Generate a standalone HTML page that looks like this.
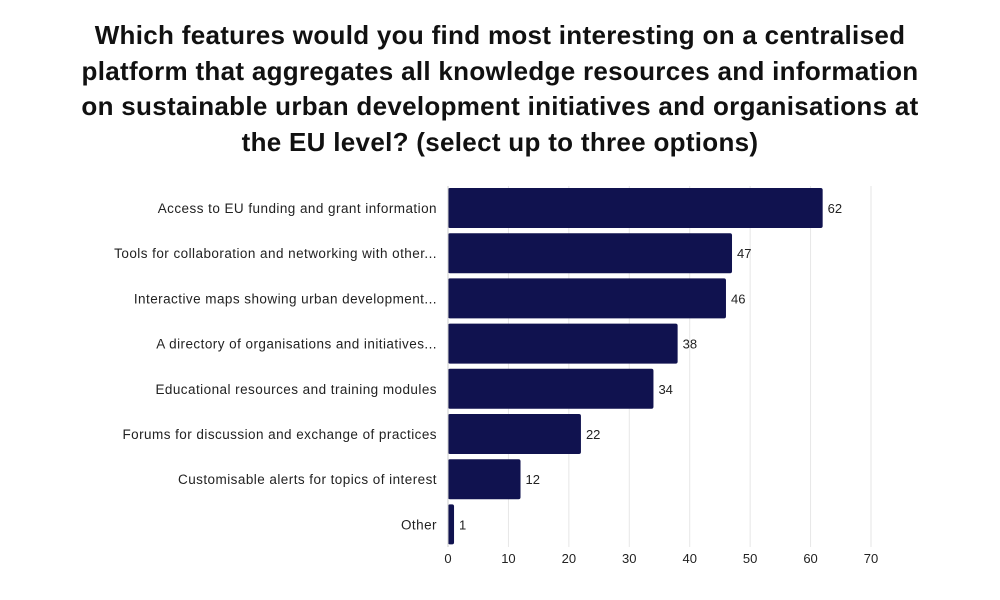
<!DOCTYPE html>
<html><head><meta charset="utf-8">
<style>
body{margin:0;background:#fff;width:1000px;height:600px;overflow:hidden;font-family:"Liberation Sans",sans-serif}
#title{position:absolute;left:0;top:18px;width:1000px;text-align:center;font-weight:bold;font-size:26px;letter-spacing:0.3px;line-height:35.7px;color:#111;white-space:nowrap}
svg{position:absolute;left:0;top:0}
</style></head><body>
<div id="title">Which features would you find most interesting on a centralised<br>platform that aggregates all knowledge resources and information<br>on sustainable urban development initiatives and organisations at<br>the EU level? (select up to three options)</div>
<svg id="chart" width="1000" height="600"></svg>
<script>
const categories=["Access to EU funding and grant information","Tools for collaboration and networking with other...","Interactive maps showing urban development...","A directory of organisations and initiatives...","Educational resources and training modules","Forums for discussion and exchange of practices","Customisable alerts for topics of interest","Other"];
const values=[62,47,46,38,34,22,12,1];
const ticks=[0,10,20,30,40,50,60,70];
const svg=document.getElementById('chart');
const NS='http://www.w3.org/2000/svg';
const x0=448,x1=871,xmax=70,top0=188,pitch=45.2,bh=40;
const xs=v=>x0+(x1-x0)*v/xmax;
function mk(t,a){const e=document.createElementNS(NS,t);for(const k in a)e.setAttribute(k,a[k]);svg.appendChild(e);return e;}
ticks.forEach(t=>{
 const g=mk('line',{x1:xs(t),x2:xs(t),y1:186,y2:547,stroke:'#e6e6e6','stroke-width':1});
 
 
 const l=mk('text',{x:xs(t),y:563,'text-anchor':'middle','font-size':13,fill:'#222'});
 l.textContent=t;
 
 
});
categories.forEach((c,i)=>{
 const y=top0+i*pitch;
 const r=mk('rect',{x:x0,y:y,width:xs(values[i])-x0,height:bh,rx:2,fill:'#10124f'});
 
 
 const l=mk('text',{x:437,y:y+bh/2+5,'text-anchor':'end','font-size':13.5,'letter-spacing':0.45,fill:'#222'});
 l.textContent=c;
 
 
 const v=mk('text',{x:xs(values[i])+5,y:y+bh/2+5,'font-size':13,fill:'#222'});
 v.textContent=values[i];
 
 
});
const ax=mk('line',{x1:x0,x2:x0,y1:186,y2:547,stroke:'#ccc'});


</script>
</body></html>
